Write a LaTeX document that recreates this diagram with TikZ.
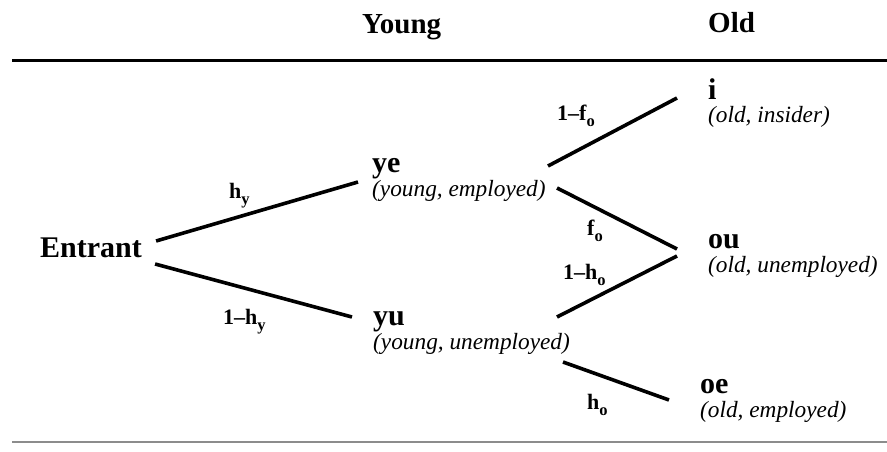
\documentclass[tikz,border=0pt]{standalone}
\usepackage{fontspec}
\setmainfont{Liberation Serif}
\usepackage{xcolor}
\usepackage{tikz}
\usetikzlibrary{positioning}
\definecolor{rulegray}{RGB}{140, 140, 140}
\newcommand{\lowsub}[1]{\raisebox{-6pt}{\fontsize{16.5}{16.5}\selectfont #1}}
\newcommand{\statename}[1]{{\fontsize{30}{24}\selectfont\bfseries #1}}

\begin{document}
\begin{tikzpicture}[
    x=1pt, y=-1pt,
    head/.style={anchor=base west, inner sep=0pt,
                 font=\fontsize{29}{29}\selectfont\bfseries},
    state/.style={anchor=base west, inner sep=0pt, align=left,
                  font=\fontsize{23.3}{24}\selectfont},
    prob/.style={anchor=base west, inner sep=0pt,
                 font=\fontsize{22}{22}\selectfont\bfseries},
    branch/.style={line width=3.6pt}
]
    \useasboundingbox (0,0) rectangle (887,452);

    % Header
    \node[head] (young) at (362,34) {Young};
    \node[head] (old) at (708,33) {Old};
    \draw[line width=3pt] (12,60.5) -- (887,60.5);
    \draw[rulegray, line width=1.2pt] (12,442) -- (887,442);

    % States (base = baseline of the description line)
    \node[head, font=\fontsize{30}{30}\selectfont\bfseries] (entrant) at (40,257) {Entrant};
    \node[state] (ye) at (372,196) {\statename{ye}\\\textit{(young, employed)}};
    \node[state] (yu) at (373,349) {\statename{yu}\\\textit{(young, unemployed)}};
    \node[state] (i) at (708,123) {\statename{i}\\\textit{(old, insider)}};
    \node[state] (ou) at (708,272) {\statename{ou}\\\textit{(old, unemployed)}};
    \node[state] (oe) at (700,417) {\statename{oe}\\\textit{(old, employed)}};

    % Branches
    \draw[branch] ([shift={(14,-16)}]entrant.base east) -- ([shift={(-14,-14)}]ye.base west);
    \draw[branch] ([shift={(13,7)}]entrant.base east) -- ([shift={(-21,-32)}]yu.base west);
    \draw[branch] ([shift={(176,-30)}]ye.base west) -- ([shift={(-31,-25)}]i.base west);
    \draw[branch] ([shift={(185,-8)}]ye.base west) -- ([shift={(-31,-23)}]ou.base west);
    \draw[branch] ([shift={(184,-32)}]yu.base west) -- ([shift={(-31,-16)}]ou.base west);
    \draw[branch] ([shift={(190,13)}]yu.base west) -- ([shift={(-31,-17)}]oe.base west);

    % Probabilities
    \node[prob] (phy) at (229,198) {h\lowsub{y}};
    \node[prob] (pnhy) at (223,324) {1--h\lowsub{y}};
    \node[prob] (pnfo) at (557,121) {1--f\lowsub{o}};
    \node[prob] (pfo) at (587,235) {f\lowsub{o}};
    \node[prob] (pnho) at (563,279) {1--h\lowsub{o}};
    \node[prob] (pho) at (587,409) {h\lowsub{o}};
\end{tikzpicture}
\end{document}
